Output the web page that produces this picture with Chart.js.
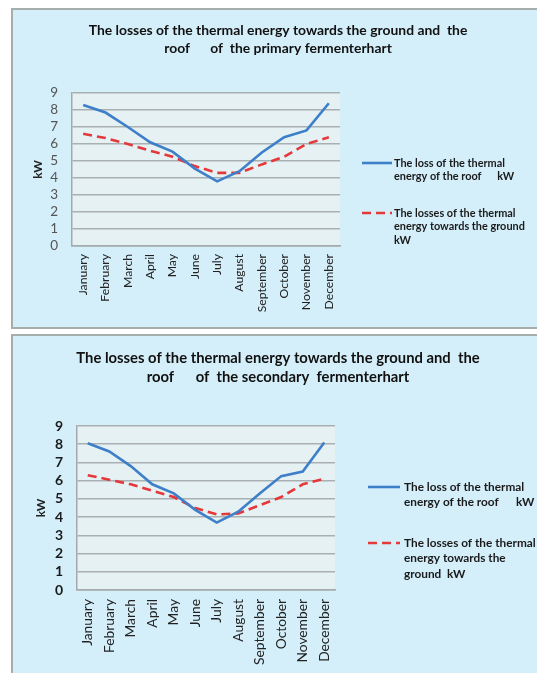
<!DOCTYPE html>
<html>
<head>
<meta charset="utf-8">
<script src="https://cdn.jsdelivr.net/npm/chart.js@4/dist/chart.umd.min.js"></script>
<style>
  html, body { margin: 0; padding: 0; background: #ffffff; overflow: hidden; width: 537px; height: 673px; }
  .panel { position: absolute; left: 11px; width: 530px; background: #d4effa; border: 2px solid #a6adad; }
  #p1 { top: 8px; height: 317px; }
  #p2 { top: 334px; height: 345px; }
  canvas { display: block; }
</style>
</head>
<body>
<div class="panel" id="p1"><canvas id="c1" width="530" height="317"></canvas></div>
<div class="panel" id="p2"><canvas id="c2" width="530" height="337"></canvas></div>
<script>
// Months along the x axis
const months = ['January', 'February', 'March', 'April', 'May', 'June',
                'July', 'August', 'September', 'October', 'November', 'December'];

// Primary fermenter: heat loss through the roof and towards the ground (kW)
const primaryRoof   = [8.3, 7.85, 7.0, 6.1, 5.55, 4.55, 3.8, 4.4, 5.5, 6.4, 6.8, 8.4];
const primaryGround = [6.6, 6.35, 6.0, 5.6, 5.25, 4.7, 4.3, 4.3, 4.8, 5.25, 6.0, 6.4];

// Secondary fermenter: heat loss through the roof and towards the ground (kW)
const secondaryRoof   = [8.05, 7.6, 6.8, 5.8, 5.3, 4.4, 3.7, 4.3, 5.3, 6.25, 6.5, 8.1];
const secondaryGround = [6.3, 6.05, 5.8, 5.45, 5.1, 4.5, 4.15, 4.2, 4.65, 5.1, 5.8, 6.1];

// Y axis ticks (kW)
const kwTicks = [0, 1, 2, 3, 4, 5, 6, 7, 8, 9];

// Titles and legend texts
const primaryTitle = ['The losses of the thermal energy towards the ground and  the',
                      'roof      of  the primary fermenterhart'];
const secondaryTitle = ['The losses of the thermal energy towards the ground and  the',
                        'roof      of  the secondary  fermenterhart'];
const roofLabelPrimary = ['The loss of the thermal', 'energy of the roof      kW'];
const groundLabelPrimary = ['The losses of the thermal', 'energy towards the ground', 'kW'];
const roofLabelSecondary = ['The loss of the thermal', 'energy of the roof      kW'];
const groundLabelSecondary = ['The losses of the thermal', 'energy towards the', 'ground  kW'];

const FONT = 'Lato, "Open Sans", sans-serif';
const BLUE = '#3d7fc8';
const RED = '#e5383b';

// Plot-area fill and a right-hand legend with wrapped labels
const panelDeco = {
  id: 'panelDeco',
  beforeDraw(chart, args, opts) {
    const { ctx, chartArea: a } = chart;
    ctx.save();
    ctx.fillStyle = opts.plotColor;
    ctx.fillRect(a.left, a.top, a.right - a.left, a.bottom - a.top);
    ctx.restore();
  },
  afterDraw(chart, args, opts) {
    const { ctx } = chart;
    ctx.save();
    ctx.font = opts.font;
    ctx.fillStyle = '#1a1a1a';
    ctx.textBaseline = 'middle';
    ctx.textAlign = 'left';
    chart.data.datasets.forEach((ds, i) => {
      const y = opts.entryY[i];
      ctx.save();
      ctx.strokeStyle = ds.borderColor;
      ctx.lineWidth = ds.borderWidth;
      ctx.setLineDash(ds.borderDash || []);
      ctx.beginPath();
      ctx.moveTo(opts.lineX0, y);
      ctx.lineTo(opts.lineX1, y);
      ctx.stroke();
      ctx.restore();
      ds.label.forEach((line, k) => {
        ctx.fillText(line, opts.textX, y + k * opts.lineHeight);
      });
    });
    ctx.restore();
  }
};

function makeChart(id, title, roof, ground, roofLabel, groundLabel, lay) {
  return new Chart(document.getElementById(id), {
    type: 'line',
    data: {
      labels: months,
      datasets: [
        { label: roofLabel, data: roof, borderColor: BLUE, borderWidth: 2.6,
          pointRadius: 0, tension: 0, fill: false },
        { label: groundLabel, data: ground, borderColor: RED, borderWidth: 2.6,
          borderDash: [9, 5], pointRadius: 0, tension: 0, fill: false }
      ]
    },
    options: {
      responsive: false,
      animation: false,
      devicePixelRatio: 1,
      layout: { padding: 0 },
      plugins: {
        legend: { display: false },
        tooltip: { enabled: false },
        title: {
          display: true,
          text: title,
          color: '#111',
          font: { family: FONT, size: lay.titleSize, weight: 'bold', lineHeight: lay.titleLH + 'px' },
          padding: { top: lay.titleTop, bottom: lay.titleBottom }
        },
        panelDeco: {
          plotColor: '#e6f1f4',
          font: 'bold ' + lay.legendSize + 'px ' + FONT,
          lineX0: lay.legendLineX0, lineX1: lay.legendLineX1,
          textX: lay.legendTextX, lineHeight: lay.legendLH,
          entryY: lay.legendY
        }
      },
      scales: {
        x: {
          offset: true,
          grid: { display: false, drawTicks: false },
          border: { display: true, color: '#a3aaac', width: 1.5 },
          ticks: {
            autoSkip: false, minRotation: 90, maxRotation: 90,
            padding: lay.xPad, color: '#222',
            font: { family: FONT, size: lay.xSize }
          },
          afterFit(scale) { scale.height = lay.xHeight; }
        },
        y: {
          min: kwTicks[0], max: kwTicks[kwTicks.length - 1],
          afterBuildTicks(scale) { scale.ticks = kwTicks.map(v => ({ value: v })); },
          grid: { color: '#a9b0b2', lineWidth: 1.5, drawTicks: false },
          border: { display: true, color: '#a3aaac', width: 1.5 },
          ticks: {
            autoSkip: false,
            padding: lay.yPad, color: lay.yColor,
            font: { family: FONT, size: lay.ySize, weight: lay.yWeight }
          },
          title: {
            display: true, text: 'kW', color: '#222',
            font: { family: FONT, size: 12, weight: 'bold' },
            padding: { top: lay.kwPad, bottom: 0 }
          },
          afterFit(scale) { scale.width = lay.yWidth; }
        },
        // empty right-hand axis that reserves the legend column
        legendSpace: {
          type: 'linear', position: 'right', axis: 'y',
          min: kwTicks[0], max: kwTicks[kwTicks.length - 1],
          grid: { display: false, drawTicks: false },
          border: { display: false },
          ticks: { display: false },
          afterFit(scale) { scale.width = lay.padRight; }
        }
      }
    },
    plugins: [panelDeco]
  });
}

makeChart('c1', primaryTitle, primaryRoof, primaryGround, roofLabelPrimary, groundLabelPrimary, {
  padRight: 203, titleSize: 13.9, titleLH: 18, titleTop: 12, titleBottom: 35,
  xPad: 8, xSize: 12.2, xHeight: 81,
  yPad: 14, ySize: 13.5, yWeight: 'normal', yColor: '#555', kwPad: 18, yWidth: 59,
  legendSize: 10.9, legendLineX0: 349, legendLineX1: 379, legendTextX: 381,
  legendLH: 13.5, legendY: [153, 203]
});

makeChart('c2', secondaryTitle, secondaryRoof, secondaryGround, roofLabelSecondary, groundLabelSecondary, {
  padRight: 208, titleSize: 14.8, titleLH: 19, titleTop: 13, titleBottom: 39,
  xPad: 9, xSize: 13.8, xHeight: 83,
  yPad: 14, ySize: 14, yWeight: 'bold', yColor: '#1a1a1a', kwPad: 21, yWidth: 64,
  legendSize: 11.8, legendLineX0: 355, legendLineX1: 387, legendTextX: 391,
  legendLH: 15.5, legendY: [151, 207]
});
</script>
</body>
</html>
